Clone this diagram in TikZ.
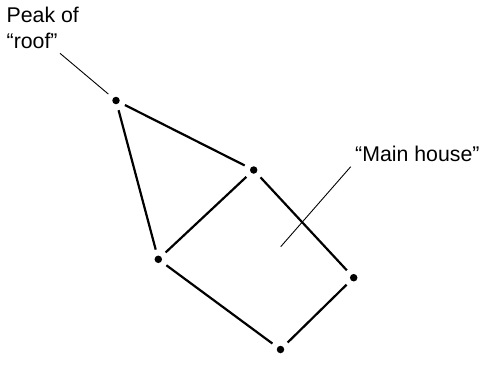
\documentclass[tikz,border=0pt]{standalone}
\usepackage{fontspec}
\setmainfont{Liberation Sans}
\usepackage{tikz}
\usetikzlibrary{positioning}

\begin{document}
\begin{tikzpicture}[
  x=1pt,y=-1pt,
  dot/.style={circle,fill=black,inner sep=0pt,minimum size=7.5pt,outer sep=6.3pt},
  lbl/.style={inner sep=0pt,align=left,font=\fontsize{21.3}{25.5}\selectfont},
  edge/.style={line width=2.2pt},
  leader/.style={line width=0.9pt}
]
\useasboundingbox (0,0) rectangle (480,384);
% points of the house
\node[dot] (peak) at (116,100.5) {};
\node[dot] (rtop) at (253.7,170) {};
\node[dot] (lft) at (158.3,259.3) {};
\node[dot] (rgt) at (353.7,277.7) {};
\node[dot] (bot) at (280.5,349.5) {};

\draw[edge] (peak)--(rtop);
\draw[edge] (peak)--(lft);
\draw[edge] (rtop)--(lft);
\draw[edge] (rtop)--(rgt);
\draw[edge] (lft)--(bot);
\draw[edge] (rgt)--(bot);

% labels
\node[lbl,anchor=north west] (peaklbl) at (6.5,7.2) {Peak of\\“roof”};
\node[lbl,anchor=base west] (mainlbl) at (355,161) {“Main house”};
\coordinate (peaktail) at (60,53.3);
\coordinate (maintail) at (350.7,166.7);
\coordinate (mainend) at (280.7,246.7);
\draw[leader] (peaktail)--(peak);
\draw[leader] (maintail)--(mainend);
\end{tikzpicture}
\end{document}
